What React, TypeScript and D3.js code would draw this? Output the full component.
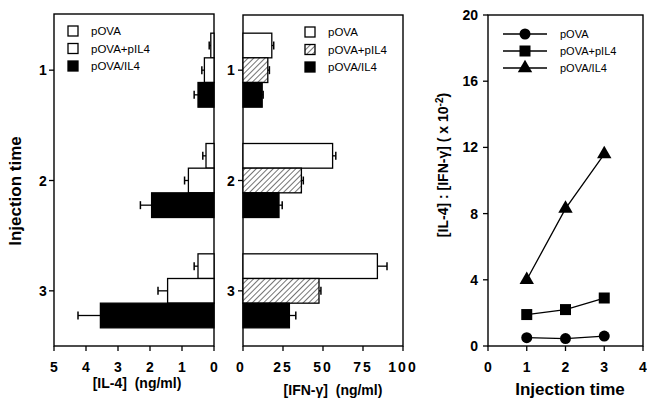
import React from "react";
import * as d3 from "d3";

// injection times (categories)
const times = ["1", "2", "3"];
const groups = ["pOVA", "pOVA+pIL4", "pOVA/IL4"];

// IL-4 (ng/ml), mean and error, per group, by injection time
const il4 = [0.1, 0.25, 0.5];
const il4Err = [0.05, 0.1, 0.12];
const il4Plus = [0.3, 0.8, 1.45];
const il4PlusErr = [0.08, 0.12, 0.3];
const il4Il4 = [0.5, 1.95, 3.55];
const il4Il4Err = [0.12, 0.35, 0.7];

// IFN-gamma (ng/ml)
const ifn = [18, 56, 84];
const ifnErr = [1.2, 2, 6];
const ifnPlus = [15.5, 36.5, 47.5];
const ifnPlusErr = [1, 1.2, 1.2];
const ifnIl4 = [12, 22.5, 29];
const ifnIl4Err = [0.6, 2, 4];

// ratio IL-4 : IFN-gamma (x 10^-2)
const ratioX = [1, 2, 3];
const ratioOva = [0.5, 0.45, 0.6];
const ratioPlus = [1.9, 2.2, 2.9];
const ratioIl4 = [4.0, 8.3, 11.6];

const leftTicks = [5, 4, 3, 2, 1, 0];
const midTicks = [0, 25, 50, 75, 100];
const rightYTicks = [0, 4, 8, 12, 16, 20];
const rightXTicks = [0, 1, 2, 3, 4];

const FONT = "'Liberation Sans', Arial, Helvetica, sans-serif";
const top = 15;
const bottom = 346;

const xL = d3.scaleLinear().domain([0, 5]).range([214, 54]);
const xM = d3.scaleLinear().domain([0, 100]).range([243, 403]);
const yCat = d3.scaleBand().domain(times).range([top, bottom]);
const ySub = d3.scaleBand().domain(groups).range([-37, 37]);

const xR = d3.scaleLinear().domain([0, 4]).range([488, 643]);
const yR = d3.scaleLinear().domain([0, 20]).range([bottom, top]);

const leftSeries = [
  { name: groups[0], v: il4, e: il4Err, fill: "#fff" },
  { name: groups[1], v: il4Plus, e: il4PlusErr, fill: "#fff" },
  { name: groups[2], v: il4Il4, e: il4Il4Err, fill: "#000" },
];
const midSeries = [
  { name: groups[0], v: ifn, e: ifnErr, fill: "#fff" },
  { name: groups[1], v: ifnPlus, e: ifnPlusErr, fill: "url(#hatch)" },
  { name: groups[2], v: ifnIl4, e: ifnIl4Err, fill: "#000" },
];
const ratioSeries = [
  { name: groups[0], v: ratioOva, shape: "circle" },
  { name: groups[1], v: ratioPlus, shape: "square" },
  { name: groups[2], v: ratioIl4, shape: "triangle" },
];

function Marker({ shape, x, y }: { shape: string; x: number; y: number }) {
  if (shape === "circle") return <circle cx={x} cy={y} r={5.5} fill="#000" />;
  if (shape === "square") return <rect x={x - 5.5} y={y - 5.5} width={11} height={11} fill="#000" />;
  const p = d3.symbol(d3.symbolTriangle, 90)();
  return <path d={p || ""} transform={`translate(${x},${y})`} fill="#000" />;
}

function Bars({ series, x }: { series: any[]; x: d3.ScaleLinear<number, number> }) {
  const x0 = x(0);
  return (
    <g>
      {series.map((s) =>
        times.map((t, i) => {
          const yc = (yCat(t) || 0) + yCat.bandwidth() / 2;
          const y0 = yc + (ySub(s.name) || 0);
          const h = ySub.bandwidth();
          const xe = x(s.v[i]);
          const xerr = x(s.v[i] + s.e[i]);
          return (
            <g key={s.name + t}>
              <rect x={Math.min(x0, xe)} y={y0} width={Math.abs(xe - x0)} height={h}
                fill={s.fill} stroke="#000" strokeWidth={1.3} />
              <line x1={xe} x2={xerr} y1={y0 + h / 2} y2={y0 + h / 2} stroke="#000" strokeWidth={1.3} />
              <line x1={xerr} x2={xerr} y1={y0 + h / 2 - 4} y2={y0 + h / 2 + 4} stroke="#000" strokeWidth={1.5} />
            </g>
          );
        })
      )}
    </g>
  );
}

function CatAxis({ x, labelX }: { x: number; labelX: number }) {
  return (
    <g>
      {times.map((t) => {
        const yc = (yCat(t) || 0) + yCat.bandwidth() / 2;
        return (
          <g key={t}>
            <line x1={x - 5} x2={x} y1={yc} y2={yc} stroke="#000" strokeWidth={1.3} />
            <text x={labelX} y={yc + 5} textAnchor="middle" fontSize={14} fontWeight="bold">{t}</text>
          </g>
        );
      })}
    </g>
  );
}

function BoxLegend({ x, y, fills }: { x: number; y: number; fills: string[] }) {
  return (
    <g>
      {groups.map((g, i) => (
        <g key={g} transform={`translate(${x},${y + i * 17.5})`}>
          <rect x={0} y={-5} width={10} height={10} fill={fills[i]} stroke="#000" strokeWidth={1.3} />
          <text x={23} y={4} fontSize={11.5}>{g}</text>
        </g>
      ))}
    </g>
  );
}

export default function App() {
  const line = d3.line<number>().x((_, i) => xR(ratioX[i])).y((d) => yR(d));
  return (
    <svg width={647} height={401} style={{ position: "absolute", left: 0, top: 0, background: "#fff" }}
      fontFamily={FONT}>
      <defs>
        <pattern id="hatch" patternUnits="userSpaceOnUse" width={4} height={4} patternTransform="rotate(45)">
          <rect width={4} height={4} fill="#fff" />
          <line x1={0} y1={0} x2={0} y2={4} stroke="#000" strokeWidth={1.1} />
        </pattern>
      </defs>

      {/* left panel: IL-4 */}
      <rect x={xL(5)} y={top - 1} width={xL(0) - xL(5)} height={bottom - top + 1} fill="none" stroke="#000" strokeWidth={1.4} />
      <Bars series={leftSeries} x={xL} />
      <CatAxis x={xL(5)} labelX={43} />
      {leftTicks.map((t) => (
        <g key={t}>
          <line x1={xL(t)} x2={xL(t)} y1={bottom} y2={bottom + 5} stroke="#000" strokeWidth={1.3} />
          <text x={xL(t)} y={372} textAnchor="middle" fontSize={14} fontWeight="bold">{t}</text>
        </g>
      ))}
      <BoxLegend x={68} y={31} fills={["#fff", "#fff", "#000"]} />
      <text x={137} y={388} textAnchor="middle" fontSize={14} fontWeight="bold">{"[IL-4]\u00a0\u00a0(ng/ml)"}</text>
      <text transform="translate(21,191) rotate(-90)" textAnchor="middle" fontSize={17} fontWeight="bold">Injection time</text>

      {/* middle panel: IFN-gamma */}
      <rect x={xM(0)} y={top} width={xM(100) - xM(0)} height={bottom - top} fill="none" stroke="#000" strokeWidth={1.4} />
      <Bars series={midSeries} x={xM} />
      <CatAxis x={xM(0)} labelX={231} />
      {midTicks.map((t) => (
        <g key={t}>
          <line x1={xM(t)} x2={xM(t)} y1={bottom} y2={bottom + 5} stroke="#000" strokeWidth={1.3} />
          <text x={xM(t) - (t === 0 ? 2 : 0)} y={372} textAnchor="middle" fontSize={14} fontWeight="bold" letterSpacing={2}>{t}</text>
        </g>
      ))}
      <BoxLegend x={305} y={32} fills={["#fff", "url(#hatch)", "#000"]} />
      <text x={333} y={395} textAnchor="middle" fontSize={14} fontWeight="bold">{"[IFN-γ]\u00a0\u00a0(ng/ml)"}</text>

      {/* right panel: ratio */}
      <rect x={xR(0)} y={top} width={xR(4) - xR(0)} height={bottom - top} fill="none" stroke="#000" strokeWidth={1.4} />
      {rightYTicks.map((t) => (
        <g key={t}>
          <line x1={xR(0) - 5} x2={xR(0)} y1={yR(t)} y2={yR(t)} stroke="#000" strokeWidth={1.3} />
          <text x={478} y={yR(t) + 5} textAnchor="end" fontSize={14} fontWeight="bold">{t}</text>
        </g>
      ))}
      {rightXTicks.map((t) => (
        <g key={t}>
          <line x1={xR(t)} x2={xR(t)} y1={bottom} y2={bottom + 5} stroke="#000" strokeWidth={1.3} />
          <text x={xR(t)} y={372} textAnchor="middle" fontSize={14} fontWeight="bold">{t}</text>
        </g>
      ))}
      {ratioSeries.map((s) => (
        <g key={s.name}>
          <path d={line(s.v) || ""} fill="none" stroke="#000" strokeWidth={1.3} />
          {s.v.map((v, i) => <Marker key={i} shape={s.shape} x={xR(ratioX[i])} y={yR(v)} />)}
        </g>
      ))}
      {ratioSeries.map((s, i) => (
        <g key={s.name} transform={`translate(503,${34 + i * 17})`}>
          <line x1={0} x2={44} y1={0} y2={0} stroke="#000" strokeWidth={1.3} />
          <Marker shape={s.shape} x={22} y={0} />
          <text x={57} y={4} fontSize={11}>{s.name}</text>
        </g>
      ))}
      <text x={570} y={395} textAnchor="middle" fontSize={17} fontWeight="bold">Injection time</text>
      <text transform="translate(448,165) rotate(-90)" textAnchor="middle" fontSize={14} fontWeight="bold">
        [IL-4] : [IFN-γ] ( x 10<tspan dy={-5} fontSize={10}>-2</tspan><tspan dy={5}>)</tspan>
      </text>
    </svg>
  );
}
